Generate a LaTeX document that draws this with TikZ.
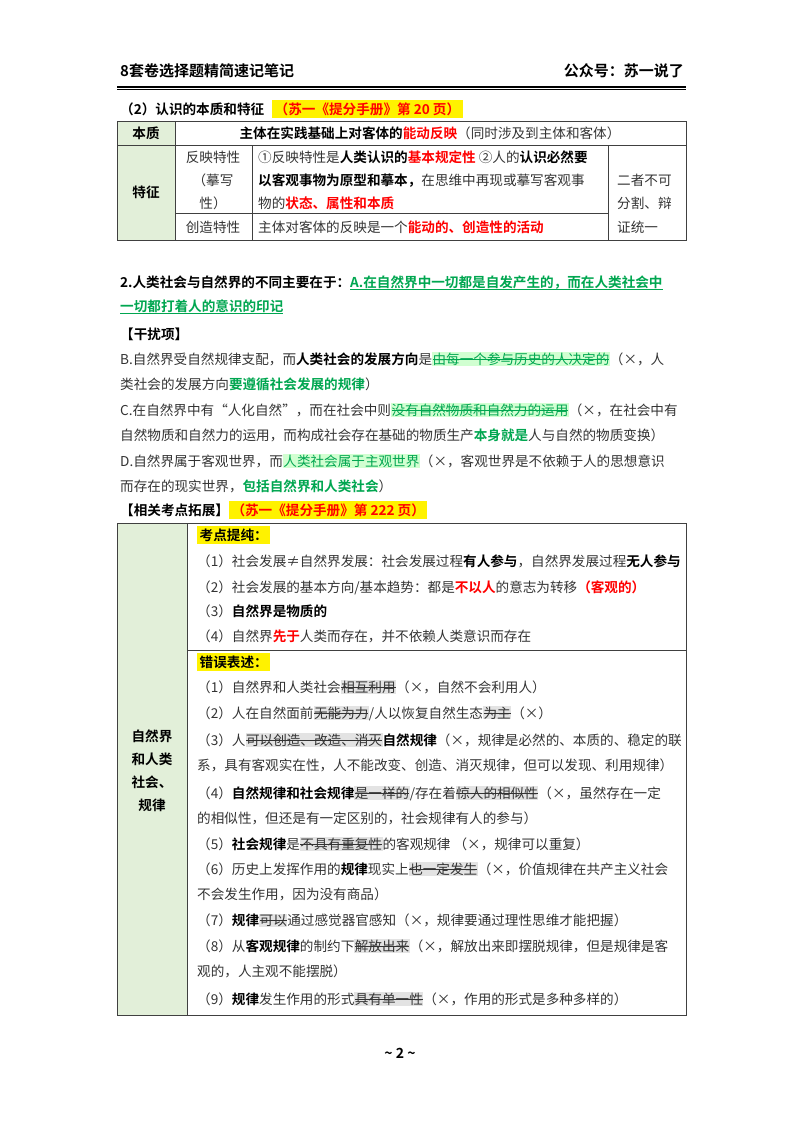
\documentclass[tikz,border=0pt]{standalone}
\usepackage{fontspec}
\setmainfont{Noto Sans CJK SC}[BoldFont={Noto Sans CJK SC Bold}]
\definecolor{lg}{HTML}{E2EFD9}
\definecolor{gt}{HTML}{00A650}
\definecolor{tx}{HTML}{333333}
\newsavebox\dbox
\newcommand\sdel[1]{\sbox\dbox{#1}{\fboxsep=0.5pt\colorbox{gray!22}{\rlap{\rule[0.33em]{\wd\dbox}{0.6pt}}\usebox\dbox}}}
\newcommand\gdel[1]{\sbox\dbox{\color{gt}#1}{\fboxsep=0.5pt\colorbox{green!18}{\rlap{\color{gt}\rule[0.33em]{\wd\dbox}{0.6pt}}\usebox\dbox}}}
\newcommand\ghl[1]{{\fboxsep=0.5pt\colorbox{green!18}{\color{gt}#1}}}
\newcommand\yhl[1]{{\fboxsep=2.5pt\colorbox{yellow}{#1}}}
\newcommand\und[1]{\sbox\dbox{#1}\rlap{\rule[-3pt]{\wd\dbox}{0.6pt}}\usebox\dbox}
\newcommand\rb[1]{\textcolor{red}{\textbf{#1}}}
\begin{document}
\begin{tikzpicture}[x=1pt,y=-1pt,
  t/.style={anchor=base west,inner sep=0,font=\fontsize{13.6}{16}\selectfont,text=tx},
  c/.style={anchor=base,inner sep=0,font=\fontsize{13.6}{16}\selectfont,text=tx},
  grid/.style={draw=black!75,line width=0.7pt}]
\useasboundingbox (0,0) rectangle (800,1132);
% header
\node[t,font=\fontsize{15}{18}\selectfont\bfseries,text=black] (h1) at (120,77) {8套卷选择题精简速记笔记};
\node[t,anchor=base east,font=\fontsize{15}{18}\selectfont\bfseries,text=black] (h2) at (684,77) {公众号：苏一说了};
\draw[line width=1.2pt] (117,87) -- (686,87);
\draw[line width=0.4pt] (117,89.5) -- (686,89.5);
% section (2)
\node[t,text=black] (s2) at (120,114) {\textbf{（2）认识的本质和特征}\hspace{8pt}\yhl{\textcolor{red}{\textbf{（苏一《提分手册》第 20 页）}}}};
% table 1
\fill[lg] (117,121) rectangle (175,240);
\draw[grid] (117,121) rectangle (686,240);
\draw[grid] (175,121) -- (175,240);
\draw[grid] (117,145) -- (686,145);
\draw[grid] (252,145) -- (252,240);
\draw[grid] (608,145) -- (608,240);
\draw[grid] (175,213) -- (608,213);
\node[c,font=\fontsize{13.6}{16}\selectfont\bfseries,text=black] (bz) at (146,138) {本质};
\node[c] (bzc) at (430,138) {\textbf{\color{black}主体在实践基础上对客体的}\rb{能动反映}（同时涉及到主体和客体）};
\node[c,font=\fontsize{13.6}{16}\selectfont\bfseries,text=black] (tz) at (146,197) {特征};
\node[c] (f1) at (213,162) {反映特性};
\node[c] (f2) at (213,185) {（摹写};
\node[c] (f3) at (213,208) {性）};
\node[t] (m1) at (258,162) {①反映特性是\textbf{\color{black}人类认识的}\rb{基本规定性} ②人的\textbf{\color{black}认识必然要}};
\node[t] (m2) at (258,185) {\textbf{\color{black}以客观事物为原型和摹本，}在思维中再现或摹写客观事};
\node[t] (m3) at (258,208) {物的\rb{状态、属性和本质}};
\node[c] (cz) at (213,232) {创造特性};
\node[t] (cc) at (258,232) {主体对客体的反映是一个\rb{能动的、创造性的活动}};
\node[t] (r1) at (617,185) {二者不可};
\node[t] (r2) at (617,208) {分割、辩};
\node[t] (r3) at (617,232) {证统一};
% question 2
\node[t,text=black] (q1) at (120,287) {\textbf{2.人类社会与自然界的不同主要在于：}\textcolor{gt}{\textbf{\und{A.在自然界中一切都是自发产生的，而在人类社会中}}}};
\node[t] (q2) at (120,311) {\textcolor{gt}{\textbf{\und{一切都打着人的意识的印记}}}};
\node[t,text=black] (gr) at (120,339) {\textbf{【干扰项】}};
\node[t] (b1) at (120,364) {B.自然界受自然规律支配，而\textbf{\color{black}人类社会的发展方向}是\gdel{由每一个参与历史的人决定的}（×，人};
\node[t] (b2) at (120,389) {类社会的发展方向\textcolor{gt}{\textbf{要遵循社会发展的规律}}）};
\node[t] (c1) at (120,415) {C.在自然界中有“人化自然”，而在社会中则\gdel{没有自然物质和自然力的运用}（×，在社会中有};
\node[t] (c2) at (120,440) {自然物质和自然力的运用，而构成社会存在基础的物质生产\textcolor{gt}{\textbf{本身就是}}人与自然的物质变换）};
\node[t] (d1) at (120,466) {D.自然界属于客观世界，而\ghl{人类社会属于主观世界}（×，客观世界是不依赖于人的思想意识};
\node[t] (d2) at (120,491) {而存在的现实世界，\textcolor{gt}{\textbf{包括自然界和人类社会}}）};
\node[t,text=black] (xg) at (120,515) {\textbf{【相关考点拓展】}\yhl{\textcolor{red}{\textbf{（苏一《提分手册》第 222 页）}}}};
% table 2
\fill[lg] (117,523) rectangle (187,1015);
\draw[grid] (117,523) rectangle (686,1015);
\draw[grid] (187,523) -- (187,1015);
\draw[grid] (187,650) -- (686,650);
\node[c,text=black,font=\fontsize{13.6}{16}\selectfont\bfseries,align=center,anchor=center] (lab) at (152,771) {自然界\\[7pt]和人类\\[7pt]社会、\\[7pt]规律};
\node[t,text=black] (kd) at (197,540) {\yhl{\textbf{考点提纯：}}};
\node[t] (k1) at (197,566) {（1）社会发展≠自然界发展：社会发展过程\textbf{\color{black}有人参与}，自然界发展过程\textbf{\color{black}无人参与}};
\node[t] (k2) at (197,592) {（2）社会发展的基本方向/基本趋势：都是\rb{不以人}的意志为转移\rb{（客观的）}};
\node[t] (k3) at (197,616) {（3）\textbf{\color{black}自然界是物质的}};
\node[t] (k4) at (197,641) {（4）自然界\rb{先于}人类而存在，并不依赖人类意识而存在};
\node[t,text=black] (cw) at (197,667) {\yhl{\textbf{错误表述：}}};
\node[t] (e1) at (197,692) {（1）自然界和人类社会\sdel{相互利用}（×，自然不会利用人）};
\node[t] (e2) at (197,718) {（2）人在自然面前\sdel{无能为力}/人以恢复自然生态\sdel{为主}（×）};
\node[t] (e3a) at (197,745) {（3）人\sdel{可以创造、改造、消灭}\textbf{\color{black}自然规律}（×，规律是必然的、本质的、稳定的联};
\node[t] (e3b) at (197,770) {系，具有客观实在性，人不能改变、创造、消灭规律，但可以发现、利用规律）};
\node[t] (e4a) at (197,798) {（4）\textbf{\color{black}自然规律和社会规律}\sdel{是一样的}/存在着\sdel{惊人的相似性}（×，虽然存在一定};
\node[t] (e4b) at (197,823) {的相似性，但还是有一定区别的，社会规律有人的参与）};
\node[t] (e5) at (197,849) {（5）\textbf{\color{black}社会规律}是\sdel{不具有重复性}的客观规律 （×，规律可以重复）};
\node[t] (e6a) at (197,874) {（6）历史上发挥作用的\textbf{\color{black}规律}现实上\sdel{也一定发生}（×，价值规律在共产主义社会};
\node[t] (e6b) at (197,899) {不会发生作用，因为没有商品）};
\node[t] (e7) at (197,925) {（7）\textbf{\color{black}规律}\sdel{可以}通过感觉器官感知（×，规律要通过理性思维才能把握）};
\node[t] (e8a) at (197,951) {（8）从\textbf{\color{black}客观规律}的制约下\sdel{解放出来}（×，解放出来即摆脱规律，但是规律是客};
\node[t] (e8b) at (197,976) {观的，人主观不能摆脱）};
\node[t] (e9) at (197,1004) {（9）\textbf{\color{black}规律}发生作用的形式\sdel{具有单一性}（×，作用的形式是多种多样的）};
\node[c,text=black,font=\fontsize{14}{16}\selectfont\bfseries] (ft) at (400,1058) {\textasciitilde\ 2 \textasciitilde};
\end{tikzpicture}
\end{document}
